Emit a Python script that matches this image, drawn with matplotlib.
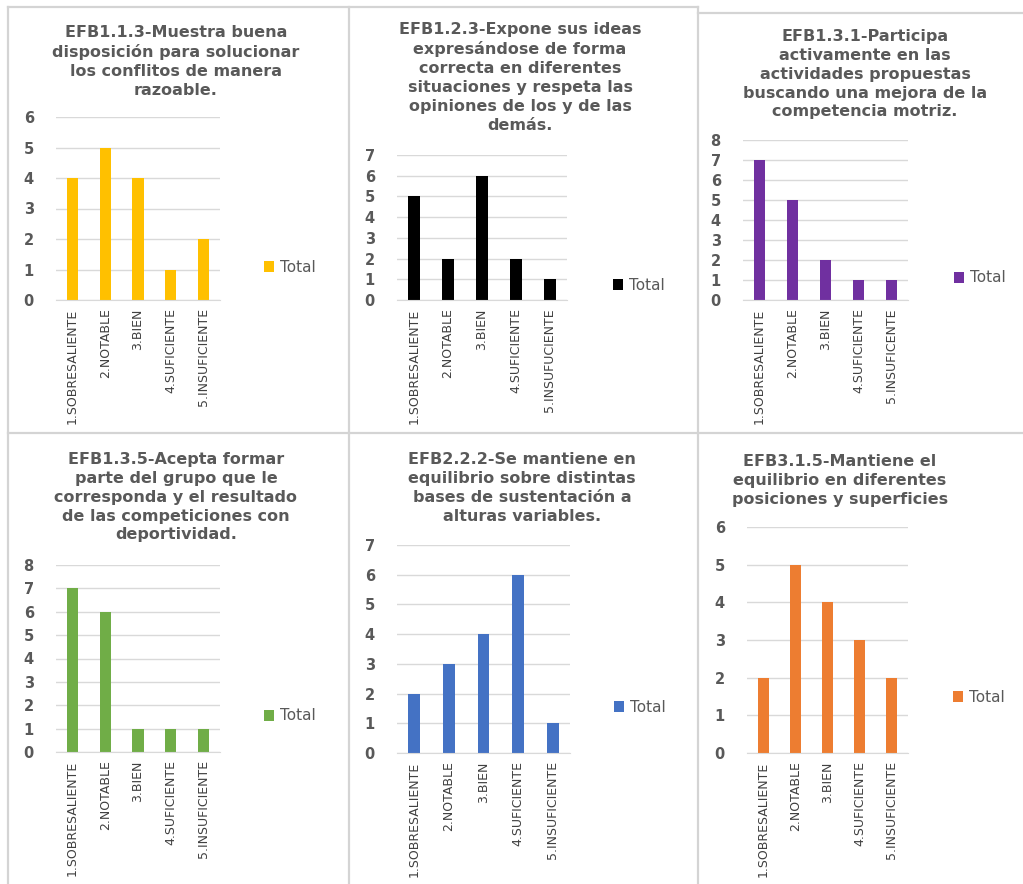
import matplotlib
matplotlib.use("Agg")
import matplotlib.pyplot as plt
from matplotlib.lines import Line2D

W, H = 1023, 884

categorias = ["1.SOBRESALIENTE", "2.NOTABLE", "3.BIEN", "4.SUFICIENTE", "5.INSUFICIENTE"]
cat_efb123 = ["1.SOBRESALIENTE", "2.NOTABLE", "3.BIEN", "4.SUFICIENTE", "5.INSUFUCIENTE"]
cat_efb131 = ["1.SOBRESALIENTE", "2.NOTABLE", "3.BIEN", "4.SUFICIENTE", "5.INSUFICENTE"]

efb113 = [4, 5, 4, 1, 2]
efb123 = [5, 2, 6, 2, 1]
efb131 = [7, 5, 2, 1, 1]
efb135 = [7, 6, 1, 1, 1]
efb222 = [2, 3, 4, 6, 1]
efb315 = [2, 5, 4, 3, 2]

titulos = [
    "EFB1.1.3-Muestra buena\ndisposición para solucionar\nlos conflitos de manera\nrazoable.",
    "EFB1.2.3-Expone sus ideas\nexpresándose de forma\ncorrecta en diferentes\nsituaciones y respeta las\nopiniones de los y de las\ndemás.",
    "EFB1.3.1-Participa\nactivamente en las\nactividades propuestas\nbuscando una mejora de la\ncompetencia motriz.",
    "EFB1.3.5-Acepta formar\nparte del grupo que le\ncorresponda y el resultado\nde las competiciones con\ndeportividad.",
    "EFB2.2.2-Se mantiene en\nequilibrio sobre distintas\nbases de sustentación a\nalturas variables.",
    "EFB3.1.5-Mantiene el\nequilibrio en diferentes\nposiciones y superficies",
]

# (valores, etiquetas, color, ymax, area en px: x0, x1, y_top, y_cero,
#  titulo: x centro, y arriba, leyenda: x, y)
paneles = [
    (efb113, categorias, "#FFC000", 6, (56, 220, 117, 300), (176, 25), (256, 267)),
    (efb123, cat_efb123, "#000000", 7, (397, 567, 155, 300), (520, 22), (605, 285)),
    (efb131, cat_efb131, "#7030A0", 8, (743, 908, 140, 300), (865, 29), (946, 278)),
    (efb135, categorias, "#70AD47", 8, (56, 220, 565, 752), (176, 452), (256, 716)),
    (efb222, categorias, "#4472C4", 7, (397, 570, 545, 753), (522, 452), (606, 707)),
    (efb315, categorias, "#ED7D31", 6, (747, 908, 527, 753), (840, 454), (945, 697)),
]

GRIS = "#595959"
fig = plt.figure(figsize=(W / 100, H / 100), dpi=100)

# rejilla de cajas alrededor de cada grafico
borde = "#D4D4D4"
for x in [8, 349, 698]:
    fig.add_artist(Line2D([x / W, x / W], [0, 1 - 7 / H], color=borde, lw=1.6))
for y0, xa, xb in [(7, 8, 698), (13, 698, W), (433, 8, W)]:
    fig.add_artist(Line2D([xa / W, xb / W], [1 - y0 / H, 1 - y0 / H], color=borde, lw=1.6))

for (valores, etiquetas, color, ymax, caja, tit, ley), titulo in zip(paneles, titulos):
    x0, x1, yt, yz = caja
    ax = fig.add_axes([x0 / W, 1 - yz / H, (x1 - x0) / W, (yz - yt) / H])
    pos = range(len(valores))
    ax.bar(pos, valores, width=0.34, color=color, label="Total", zorder=3)
    ax.set_xlim(-0.5, len(valores) - 0.5)
    ax.set_ylim(0, ymax)
    ax.set_yticks(range(ymax + 1))
    ax.set_xticks(list(pos))
    ax.set_xticklabels(etiquetas, rotation=90, fontsize=9, color="#404040",
                       family=["Liberation Sans Narrow", "DejaVu Sans"])
    ax.tick_params(axis="y", length=0, pad=16, labelsize=10.5, labelcolor=GRIS)
    ax.tick_params(axis="x", length=0, pad=6)
    for lbl in ax.get_yticklabels():
        lbl.set_fontweight("bold")
    ax.grid(axis="y", color="#D9D9D9", lw=1, zorder=0)
    for s in ["top", "right", "left"]:
        ax.spines[s].set_visible(False)
    ax.spines["bottom"].set_color("#D9D9D9")
    ax.spines["bottom"].set_zorder(4)

    fig.text(tit[0] / W, 1 - tit[1] / H, titulo, ha="center", va="top",
             fontsize=11.5, fontweight="bold", color=GRIS, linespacing=1.32)

    ax.legend(loc="center left", bbox_to_anchor=(ley[0] / W, 1 - ley[1] / H),
              bbox_transform=fig.transFigure, frameon=False,
              handlelength=0.7, handleheight=0.7, handletextpad=0.4, borderpad=0,
              labelcolor=GRIS, prop={"size": 11})

fig.savefig("out.png", dpi=100)
